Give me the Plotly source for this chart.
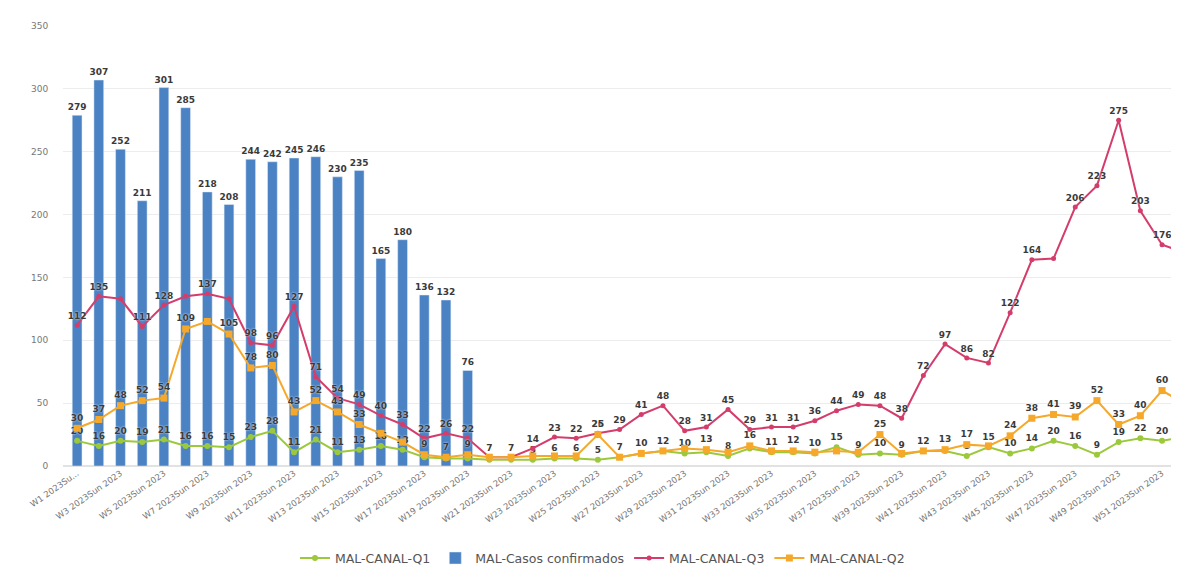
import plotly.graph_objects as go

weeks = [f"W{i} 2023Sun 2023" for i in range(1, 53)]
tick_weeks = weeks[::2]
tick_text = ["W1 2023Su..."] + tick_weeks[1:]

casos = [279, 307, 252, 211, 301, 285, 218, 208, 244, 242, 245, 246, 230, 235, 165, 180, 136, 132, 76] + [None] * 33

q3 = [112, 135, 133, 111, 128, 135, 137, 133, 98, 96, 127, 71, 54, 49, 40, 33, 22, 26, 22, 7,
      7, 14, 23, 22, 26, 29, 41, 48, 28, 31, 45, 29, 31, 31, 36, 44, 49, 48, 38, 72,
      97, 86, 82, 122, 164, 165, 206, 223, 275, 203, 176, 170]

q2 = [30, 37, 48, 52, 54, 109, 115, 105, 78, 80, 43, 52, 43, 33, 26, 19, 9, 7, 9, 7,
      7, 8, 8, 8, 25, 7, 10, 12, 14, 13, 11, 16, 12, 12, 11, 12, 11, 25, 10, 12,
      13, 17, 16, 24, 38, 41, 39, 52, 33, 40, 60, 50]

q1 = [20, 16, 20, 19, 21, 16, 16, 15, 23, 28, 11, 21, 11, 13, 16, 13, 7, 6, 6, 5,
      5, 5, 6, 6, 5, 7, 10, 12, 10, 11, 8, 14, 11, 11, 10, 15, 9, 10, 9, 12,
      12, 8, 15, 10, 14, 20, 16, 9, 19, 22, 20, 23]

# weeks (1-based) whose data label is hidden in the reference
q3_hidden = [3, 6, 8, 46, 52]
q2_hidden = [7, 15, 16, 20, 21, 22, 23, 24, 26, 27, 28, 29, 31, 33, 35, 36, 37, 39, 40, 43, 52]
q1_hidden = [17, 18, 19, 20, 21, 30, 32, 34, 41, 52]


def labels(vals, hidden):
    return ["" if (i + 1) in hidden or v is None else str(v) for i, v in enumerate(vals)]


label_font = dict(family="DejaVu Sans", size=9, color="#3a3a3a", weight="bold",
                  shadow="0px 0px 2px white")

fig = go.Figure()
fig.add_trace(go.Scatter(
    x=weeks, y=q1, name="MAL-CANAL-Q1", mode="lines+markers+text",
    line=dict(color="#9cc93c", width=2), marker=dict(color="#9cc93c", size=6, symbol="circle"),
    text=labels(q1, q1_hidden), textposition="top center", textfont=label_font,
    cliponaxis=False))
fig.add_trace(go.Bar(
    x=weeks, y=casos, name="MAL-Casos confirmados", marker=dict(color="#4a82c3"),
    text=[str(v) if v is not None else "" for v in casos], textposition="outside",
    constraintext="none", textfont=label_font, cliponaxis=False))
fig.add_trace(go.Scatter(
    x=weeks, y=q3, name="MAL-CANAL-Q3", mode="lines+markers+text",
    line=dict(color="#d43d6b", width=2), marker=dict(color="#d43d6b", size=5, symbol="circle"),
    text=labels(q3, q3_hidden), textposition="top center", textfont=label_font,
    cliponaxis=False))
fig.add_trace(go.Scatter(
    x=weeks, y=q2, name="MAL-CANAL-Q2", mode="lines+markers+text",
    line=dict(color="#f5a82a", width=2), marker=dict(color="#f5a82a", size=7, symbol="square"),
    text=labels(q2, q2_hidden), textposition="top center", textfont=label_font,
    cliponaxis=False))

fig.update_layout(
    width=1179, height=566,
    margin=dict(l=55, r=0, t=18, b=100),
    plot_bgcolor="white", paper_bgcolor="white",
    bargap=0.55,
    font=dict(family="DejaVu Sans", color="#555"),
    showlegend=True,
    legend=dict(orientation="h", x=0.48, xanchor="center", y=-0.21, yanchor="middle",
                font=dict(size=12.5, color="#555"), traceorder="normal"),
    xaxis=dict(type="category", range=[-0.65, 51.15], tickmode="array",
               tickvals=tick_weeks, ticktext=tick_text, tickangle=-35,
               tickfont=dict(size=8.5, color="#777"), showgrid=False,
               showline=False, ticks=""),
    yaxis=dict(range=[0, 350], dtick=50, gridcolor="#ececec", gridwidth=1,
               zeroline=True, zerolinecolor="#e2e2e2",
               tickfont=dict(size=9, color="#777"), ticks="outside", ticklen=12,
               tickcolor="rgba(0,0,0,0)"),
)

fig.write_html("out.html")
